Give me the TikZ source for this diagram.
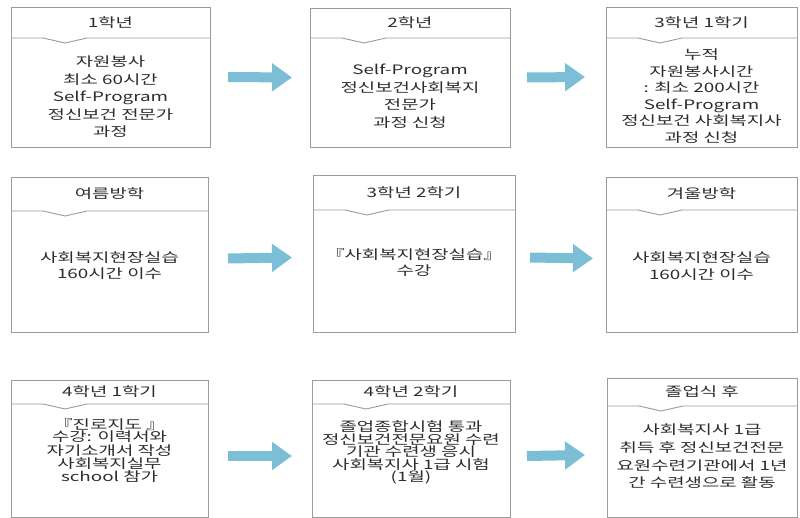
\documentclass[tikz,border=0pt]{standalone}
\usepackage{fontspec}
\usepackage{tikz}
\usetikzlibrary{arrows.meta}
\newfontfamily\kr[FakeStretch=1.45]{Noto Sans CJK KR}
\definecolor{boxgray}{RGB}{155,155,155}
\definecolor{arrblue}{RGB}{123,190,213}
\definecolor{txtgray}{RGB}{45,45,45}
\tikzset{
  box/.style={draw=boxgray, line width=0.9pt, fill=white, inner sep=0pt, outer sep=0pt},
  boxline/.style={draw=boxgray, line width=0.9pt},
  title/.style={text=txtgray, font=\kr\fontsize{13}{17}\selectfont},
  body/.style={text=txtgray, align=center, inner sep=0pt, font=\kr\fontsize{13}{#1}\selectfont},
  body/.default=17,
  flow/.style={draw=arrblue, line width=10pt, -{Triangle[length=20pt,width=27pt]}}
}
\begin{document}
\begin{tikzpicture}[x=1pt,y=-1pt]
\useasboundingbox (0,0) rectangle (800,518);
\foreach \n/\l/\t/\r/\b/\d/\ttl in {1/11/7/210/147/38/1학년, 2/310/8/510/147/38/2학년,
  3/606/7/797/147/38/3학년 1학기, 4/11/177/208/332/211/여름방학,
  5/313/175/515/332/210/3학년 2학기, 6/606/177/797/332/210/겨울방학,
  7/11/380/208/517/404/4학년 1학기, 8/312/380/510/517/404/4학년 2학기,
  9/607/378/797/517/406/졸업식 후}{
  \node[box, minimum width={(\r-\l)*1pt}, minimum height={(\b-\t)*1pt}] (b\n) at ({(\l+\r)/2},{(\t+\b)/2}) {};
  \draw[boxline] (\l,\d) -- ++(32,0) -- ++(22,5) -- ++(22,-5) -- (\r,\d);
  \node[title] (h\n) at ({(\l+\r)/2},{(\t+\d)/2}) {\ttl};
}
\node[body=17.5] (t1) at (110.5,97) {자원봉사\\최소 60시간\\Self-Program\\정신보건 전문가\\과정};
\node[body=17.5] (t2) at (410,96.5) {Self-Program\\정신보건사회복지\\전문가\\과정 신청};
\node[body=16.5] (t3) at (701.5,96) {누적\\자원봉사시간\\: 최소 200시간\\Self-Program\\정신보건 사회복지사\\과정 신청};
\node[body=16.5] (t4) at (109.5,265.5) {사회복지현장실습\\160시간 이수};
\node[body=16] (t5) at (414,262.5) {『사회복지현장실습』\\수강};
\node[body=17] (t6) at (701.5,266) {사회복지현장실습\\160시간 이수};
\node[body=13] (t7) at (109.5,450) {『진로지도 』\\수강: 이력서와\\자기소개서 작성\\사회복지실무\\school 참가};
\node[body=12.5] (t8) at (411,452.5) {졸업종합시험 통과\\정신보건전문요원 수련\\기관 수련생 응시\\사회복지사 1급 시험\\(1월)};
\node[body=17.7] (t9) at (702,456.5) {사회복지사 1급\\취득 후 정신보건전문\\요원수련기관에서 1년\\간 수련생으로 활동};
\draw[flow] ([xshift=18pt]b1.east) -- ([xshift=-18pt]b2.west);
\draw[flow] ([xshift=17pt]b2.east) -- ([xshift=-21pt]b3.west);
\draw[flow] ([xshift=20pt,yshift=-4pt]b4.east) -- ([xshift=-21pt,yshift=-4pt]b5.west);
\draw[flow] ([xshift=15pt,yshift=-4pt]b5.east) -- ([xshift=-13pt,yshift=-4pt]b6.west);
\draw[flow] ([xshift=20pt,yshift=-7.5pt]b7.east) -- ([xshift=-20pt,yshift=-7.5pt]b8.west);
\draw[flow] ([xshift=17pt,yshift=-7.5pt]b8.east) -- ([xshift=-22pt,yshift=-7.5pt]b9.west);
\end{tikzpicture}
\end{document}
